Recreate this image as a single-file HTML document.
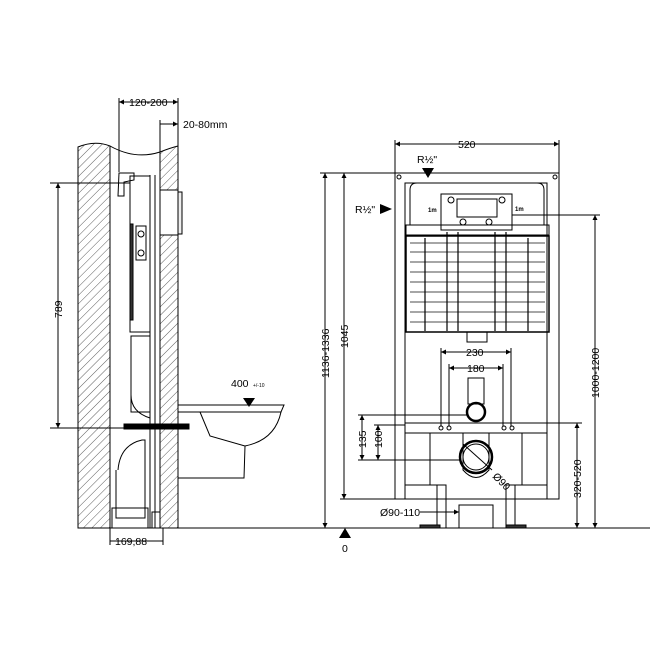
<!DOCTYPE html>
<html><head><style>body{margin:0;background:#fff}svg{display:block}text{font-family:"Liberation Sans",sans-serif;fill:#000}</style></head>
<body>
<svg width="650" height="650" viewBox="0 0 650 650" xmlns="http://www.w3.org/2000/svg">
<defs>
<pattern id="h" width="6" height="6" patternUnits="userSpaceOnUse" patternTransform="rotate(45)"><line x1="0" y1="0" x2="0" y2="6" stroke="#333" stroke-width="0.8"/></pattern>
<marker id="a" viewBox="0 0 6 6" refX="6" refY="3" markerWidth="5" markerHeight="5" orient="auto-start-reverse"><path d="M0,0L6,3L0,6z" fill="#000"/></marker>
</defs>
<g stroke="#000" fill="none" stroke-width="1">
<path d="M78,147 Q95,140 110,146 L110,528 L78,528z" fill="url(#h)"/>
<path d="M110,146 Q135,160 160,152 L160,528" />
<path d="M160,152 Q170,148 178,146 L178,190 L160,190z" fill="url(#h)"/>
<path d="M160,235 L178,235 L178,528 L160,528z" fill="url(#h)"/>
<rect x="160" y="190" width="18" height="45" fill="#fff"/>
<rect x="178" y="192" width="4" height="42" fill="#eee"/>
<line x1="150" y1="175" x2="150" y2="528"/>
<line x1="155" y1="175" x2="155" y2="528"/>
<line x1="78" y1="528" x2="650" y2="528"/>
<path d="M119,173 L134,173 L134,180 L124,182 L124,196 L118,196z"/>
<rect x="130" y="176" width="20" height="156"/>
<rect x="130" y="224" width="3" height="96" fill="#333"/>
<rect x="136" y="226" width="10" height="34"/>
<circle cx="141" cy="234" r="3"/><circle cx="141" cy="253" r="3"/>
<rect x="131" y="336" width="19" height="76"/>
<path d="M131,395 Q131,412 150,418"/>
<rect x="124" y="424" width="65" height="5" fill="#000"/>
<path d="M118,470 Q120,445 142,440 L145,440 L145,518 L116,518 L116,470"/>
<rect x="112" y="508" width="36" height="20"/>
<rect x="152" y="512" width="8" height="16"/>
<path d="M178,405 L284,405 L281,412 L178,412z"/>
<path d="M200,412 L210,436 L245,446 L244,478 L185,478 L178,478"/>
<path d="M281,412 Q275,440 245,446"/>
<line x1="119" y1="98" x2="119" y2="172"/><line x1="178" y1="98" x2="178" y2="146"/>
<line x1="119" y1="102" x2="178" y2="102" marker-start="url(#a)" marker-end="url(#a)"/>
<line x1="160" y1="120" x2="160" y2="152"/>
<line x1="160" y1="124" x2="178" y2="124" marker-end="url(#a)"/>
<line x1="50" y1="183" x2="130" y2="183"/><line x1="50" y1="428" x2="125" y2="428"/>
<line x1="58" y1="183" x2="58" y2="428" marker-start="url(#a)" marker-end="url(#a)"/>
<line x1="110" y1="528" x2="110" y2="545"/><line x1="163" y1="528" x2="163" y2="545"/>
<line x1="110" y1="541" x2="163" y2="541"/>
<rect x="395" y="173" width="164" height="326"/>
<rect x="405" y="183" width="142" height="316"/>
<circle cx="399" cy="177" r="2"/><circle cx="555" cy="177" r="2"/>
<path d="M410,225 L410,190 Q410,183 417,183 L537,183 Q544,183 544,190 L544,225"/>
<rect x="441" y="194" width="71" height="36"/>
<rect x="457" y="199" width="40" height="18"/>
<circle cx="451" cy="200" r="3"/><circle cx="502" cy="200" r="3"/><circle cx="463" cy="222" r="3"/><circle cx="489" cy="222" r="3"/>
<rect x="406" y="225" width="143" height="10"/>
<rect x="406" y="236" width="143" height="96" stroke-width="1.5"/>
<g stroke="#888" stroke-width="1.5">
<line x1="410" y1="243" x2="545" y2="243"/><line x1="410" y1="252" x2="545" y2="252"/><line x1="410" y1="262" x2="545" y2="262"/><line x1="410" y1="272" x2="545" y2="272"/><line x1="410" y1="282" x2="545" y2="282"/><line x1="410" y1="292" x2="545" y2="292"/><line x1="410" y1="302" x2="545" y2="302"/><line x1="410" y1="312" x2="545" y2="312"/><line x1="410" y1="322" x2="545" y2="322"/>
</g>
<g stroke="#000" stroke-width="1.2">
<line x1="425" y1="238" x2="425" y2="331"/><line x1="447" y1="232" x2="447" y2="331"/><line x1="458" y1="232" x2="458" y2="331"/><line x1="495" y1="232" x2="495" y2="331"/><line x1="506" y1="232" x2="506" y2="331"/><line x1="528" y1="238" x2="528" y2="331"/>
</g>
<rect x="467" y="332" width="20" height="10"/>
<rect x="468" y="378" width="16" height="26"/>
<circle cx="476" cy="412" r="9" stroke-width="2.5"/>
<rect x="405" y="423" width="142" height="10"/>
<circle cx="441" cy="428" r="2"/><circle cx="449" cy="428" r="2"/><circle cx="504" cy="428" r="2"/><circle cx="512" cy="428" r="2"/>
<path d="M405,433 L405,485 L437,485 M547,433 L547,485 L515,485"/>
<path d="M430,433 L430,485 M522,433 L522,485"/>
<path d="M463,433 L463,470 Q476,485 489,470 L489,433"/>
<circle cx="476" cy="457" r="16" stroke-width="2.5"/><circle cx="476" cy="457" r="13"/>
<line x1="463" y1="444" x2="492" y2="470"/>
<rect x="437" y="485" width="9" height="43"/><rect x="506" y="485" width="9" height="43"/>
<rect x="459" y="505" width="34" height="23"/>
<rect x="420" y="525" width="20" height="3" fill="#333"/><rect x="506" y="525" width="20" height="3" fill="#333"/>
<line x1="395" y1="140" x2="395" y2="173"/><line x1="559" y1="140" x2="559" y2="173"/>
<line x1="395" y1="144" x2="559" y2="144" marker-start="url(#a)" marker-end="url(#a)"/>
<line x1="320" y1="173" x2="395" y2="173"/>
<line x1="325" y1="173" x2="325" y2="528" marker-start="url(#a)" marker-end="url(#a)"/>
<line x1="344" y1="173" x2="344" y2="499" marker-start="url(#a)" marker-end="url(#a)"/>
<line x1="340" y1="499" x2="395" y2="499"/>
<line x1="512" y1="215" x2="600" y2="215"/>
<line x1="595" y1="215" x2="595" y2="528" marker-start="url(#a)" marker-end="url(#a)"/>
<line x1="547" y1="423" x2="582" y2="423"/>
<line x1="577" y1="423" x2="577" y2="528" marker-start="url(#a)" marker-end="url(#a)"/>
<line x1="559" y1="528" x2="600" y2="528"/>
<line x1="441" y1="348" x2="441" y2="426"/><line x1="511" y1="348" x2="511" y2="426"/>
<line x1="441" y1="352" x2="511" y2="352" marker-start="url(#a)" marker-end="url(#a)"/>
<line x1="449" y1="364" x2="449" y2="426"/><line x1="503" y1="364" x2="503" y2="426"/>
<line x1="449" y1="368" x2="503" y2="368" marker-start="url(#a)" marker-end="url(#a)"/>
<line x1="358" y1="415" x2="468" y2="415"/><line x1="358" y1="460" x2="460" y2="460"/>
<line x1="362" y1="415" x2="362" y2="460" marker-start="url(#a)" marker-end="url(#a)"/>
<line x1="374" y1="425" x2="405" y2="425"/>
<line x1="378" y1="425" x2="378" y2="460" marker-start="url(#a)" marker-end="url(#a)"/>
<line x1="420" y1="512" x2="459" y2="512" marker-end="url(#a)"/>
</g>
<g fill="#000">
<path d="M422,168 L434,168 L428,178z"/>
<path d="M380,204 L392,209 L380,214z"/>
<path d="M339,538 L351,538 L345,528z"/>
<path d="M243,398 L255,398 L249,407z"/>
</g>
<g font-size="10.5">
<text x="129" y="106">120-200</text>
<text x="183" y="128">20-80mm</text>
<text x="115" y="545">169,88</text>
<text x="231" y="387">400</text><text x="253" y="387" font-size="5">+/-10</text>
<text x="458" y="148">520</text>
<text x="417" y="163">R½"</text>
<text x="355" y="213">R½"</text>
<text x="466" y="356">230</text>
<text x="467" y="372">180</text>
<text x="380" y="516">Ø90-110</text>
<text x="342" y="552">0</text>
<text transform="translate(62,318) rotate(-90)">789</text>
<text transform="translate(329,378) rotate(-90)">1136-1336</text>
<text transform="translate(348,348) rotate(-90)">1045</text>
<text transform="translate(599,398) rotate(-90)">1000-1200</text>
<text transform="translate(581,498) rotate(-90)">320-520</text>
<text transform="translate(366,448) rotate(-90)">135</text>
<text transform="translate(382,448) rotate(-90)">100</text>
<text transform="translate(492,477) rotate(45)">Ø90</text>
<text x="428" y="212" font-size="6" font-weight="bold">1m</text>
<text x="515" y="211" font-size="6" font-weight="bold">1m</text>
</g>
</svg>
</body></html>
